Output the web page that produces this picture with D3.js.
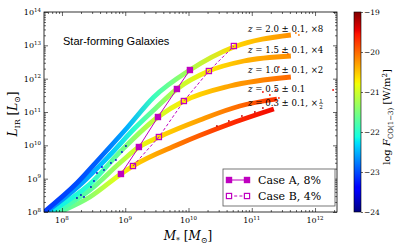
<!DOCTYPE html>
<html>
<head>
<meta charset="utf-8">
<script src="https://cdn.jsdelivr.net/npm/d3@7"></script>
<style>
body { margin: 0; background: #fff; }
svg { display: block; }
</style>
</head>
<body>
<svg id="chart" width="415" height="249"></svg>
<script>
// values, all in log10
const logM_z20 = [7.716, 8.237, 8.600, 9.027, 9.453, 10.022, 10.717, 11.618];
const logL_z20 = [8.00, 8.87, 9.62, 10.52, 11.45, 12.26, 12.95, 13.31];
const logF_z20 = [-23.1, -23.0, -22.9, -22.5, -21.9, -21.2, -20.6, -20.2];

const logM_z15 = [7.747, 8.284, 8.758, 9.153, 9.501, 9.817, 10.322, 10.875, 11.618];
const logL_z15 = [8.00, 8.81, 9.71, 10.52, 11.15, 11.69, 12.23, 12.53, 12.68];
const logF_z15 = [-22.7, -22.6, -22.4, -22.0, -21.5, -21.1, -20.7, -20.4, -20.2];

const logM_z10 = [7.810, 8.442, 8.932, 9.517, 9.927, 10.654, 11.618];
const logL_z10 = [8.00, 8.84, 9.83, 10.85, 11.33, 11.78, 12.05];
const logF_z10 = [-22.2, -22.0, -21.6, -21.0, -20.7, -20.3, -20.0];

const logM_z05 = [7.889, 8.442, 8.932, 9.216, 9.532, 10.180, 10.812, 11.397];
const logL_z05 = [8.00, 8.66, 9.50, 9.95, 10.25, 10.76, 11.18, 11.39];
const logF_z05 = [-21.9, -21.7, -21.2, -20.9, -20.6, -20.3, -20.0, -19.7];

const logM_z03 = [7.968, 8.442, 8.932, 9.122, 9.817, 10.607, 11.349];
const logL_z03 = [8.00, 8.45, 9.14, 9.38, 10.01, 10.61, 11.09];
const logF_z03 = [-21.8, -21.4, -20.8, -20.6, -20.1, -19.7, -19.5];

// stray points off the bands
const outM = [8.237, 8.300, 8.348, 8.458, 8.506, 8.553, 8.632, 8.664, 8.774, 8.853, 8.948, 9.011,
              11.697, 11.745, 11.492, 11.571, 11.429, 11.176, 11.286, 11.381, 11.429,
              10.449, 10.638, 10.844, 11.049, 11.176, 12.285];
const outL = [8.42, 8.51, 8.45, 8.75, 8.93, 9.17, 9.35, 9.26, 9.47, 9.56, 9.80, 9.98,
              13.37, 13.31, 12.80, 12.74, 12.35, 11.60, 11.51, 11.66, 11.42,
              10.58, 10.73, 10.88, 11.00, 11.12, 11.66];
const outF = [-23.7, -23.7, -23.6, -23.7, -23.6, -23.7, -23.6, -23.7, -23.6, -23.7, -23.6, -23.7,
              -20.1, -20.1, -20.0, -20.0, -19.7, -19.5, -19.6, -19.5, -19.6,
              -19.3, -19.3, -19.3, -19.3, -19.3, -19.5];

const caseA_logM = [8.932, 9.216, 9.517, 9.817, 10.022];
const caseA_logL = [9.14, 9.95, 10.85, 11.69, 12.26];
const caseB_logM = [9.122, 9.532, 9.927, 10.322, 10.717];
const caseB_logL = [9.38, 10.25, 11.33, 12.23, 12.98];

const bandRedshift = ["2.0", "1.5", "1.0", "0.5", "0.3"];
const bandFactor = ["8", "4", "2", "", "1/2"];

const xTickExp = [8, 9, 10, 11, 12];
const yTickExp = [8, 9, 10, 11, 12, 13, 14];
const cbarTicks = [-19, -20, -21, -22, -23, -24];

const svg = d3.select("#chart");
const plot = { left: 44, right: 337, top: 12, bottom: 212 };
const serif = "'DejaVu Serif', serif";
const magenta = "#bf00bf";

const x = d3.scaleLog().domain([10 ** 7.716, 10 ** 12.347]).range([plot.left, plot.right]);
const y = d3.scaleLog().domain([1e8, 1e14]).range([plot.bottom, plot.top]);

// matplotlib jet
const jetKnots = [0, 0.11, 0.125, 0.34, 0.35, 0.375, 0.64, 0.65, 0.66, 0.89, 0.91, 1];
const jetColors = ["#000080", "#0000ff", "#0000ff", "#00dbff", "#00e6f7", "#15ffe2",
                   "#efff08", "#f7f500", "#ffec00", "#ff1300", "#e80000", "#800000"];
const color = d3.scaleLinear()
    .domain(jetKnots.map(t => -24 + 5 * t))
    .range(jetColors)
    .clamp(true);

const defs = svg.append("defs");
defs.append("clipPath").attr("id", "clip")
    .append("rect")
    .attr("x", plot.left).attr("y", plot.top)
    .attr("width", plot.right - plot.left).attr("height", plot.bottom - plot.top);

//---- bands
const bands = [
    { id: "z03", m: logM_z03, l: logL_z03, f: logF_z03 },
    { id: "z05", m: logM_z05, l: logL_z05, f: logF_z05 },
    { id: "z10", m: logM_z10, l: logL_z10, f: logF_z10 },
    { id: "z15", m: logM_z15, l: logL_z15, f: logF_z15 },
    { id: "z20", m: logM_z20, l: logL_z20, f: logF_z20 }
];

const line = d3.line()
    .x(d => x(10 ** d[0]))
    .y(d => y(10 ** d[1]))
    .curve(d3.curveMonotoneX);

const gPlot = svg.append("g").attr("clip-path", "url(#clip)");

bands.forEach(b => {
    const x1 = x(10 ** b.m[0]), x2 = x(10 ** b.m[b.m.length - 1]);
    const grad = defs.append("linearGradient")
        .attr("id", "grad-" + b.id)
        .attr("gradientUnits", "userSpaceOnUse")
        .attr("x1", x1).attr("x2", x2).attr("y1", 0).attr("y2", 0);
    b.m.forEach((m, i) => {
        grad.append("stop")
            .attr("offset", (x(10 ** m) - x1) / (x2 - x1))
            .attr("stop-color", color(b.f[i]));
    });
    gPlot.append("path")
        .datum(b.m.map((m, i) => [m, b.l[i]]))
        .attr("fill", "none")
        .attr("stroke", `url(#grad-${b.id})`)
        .attr("stroke-width", 4.8)
        .attr("d", line);
});

gPlot.selectAll(".stray")
    .data(outM.map((m, i) => [m, outL[i], outF[i]]))
    .enter()
    .append("circle")
    .attr("class", "stray")
    .attr("cx", d => x(10 ** d[0]))
    .attr("cy", d => y(10 ** d[1]))
    .attr("r", 0.9)
    .attr("fill", d => color(d[2]));

//---- case A / case B
const caseLine = d3.line().x(d => x(10 ** d[0])).y(d => y(10 ** d[1]));
const caseA = caseA_logM.map((m, i) => [m, caseA_logL[i]]);
const caseB = caseB_logM.map((m, i) => [m, caseB_logL[i]]);

svg.append("path").datum(caseB)
    .attr("fill", "none").attr("stroke", magenta).attr("stroke-width", 1)
    .attr("stroke-dasharray", "3,2.2")
    .attr("d", caseLine);
svg.append("path").datum(caseA)
    .attr("fill", "none").attr("stroke", magenta).attr("stroke-width", 1)
    .attr("d", caseLine);

svg.selectAll(".mA").data(caseA).enter().append("rect")
    .attr("x", d => x(10 ** d[0]) - 3.2).attr("y", d => y(10 ** d[1]) - 3.2)
    .attr("width", 6.4).attr("height", 6.4)
    .attr("fill", magenta);
svg.selectAll(".mB").data(caseB).enter().append("rect")
    .attr("x", d => x(10 ** d[0]) - 2.6).attr("y", d => y(10 ** d[1]) - 2.6)
    .attr("width", 5.2).attr("height", 5.2)
    .attr("fill", "none").attr("stroke", magenta).attr("stroke-width", 1.2);

//---- frame and ticks
const minorVals = (lo, hi) => {
    const out = [];
    for (let e = lo; e <= hi; e++) for (let k = 2; k <= 9; k++) out.push(k * 10 ** e);
    return out;
};
const xMinor = minorVals(7, 12).filter(v => v > x.domain()[0] && v < x.domain()[1]);
const yMinor = minorVals(8, 13);
const xMajor = xTickExp.map(e => 10 ** e);
const yMajor = yTickExp.map(e => 10 ** e);

function ticks(axis, tr, vals, len) {
    const g = svg.append("g").attr("transform", tr)
        .call(axis.tickValues(vals).tickSize(-len).tickFormat(""));
    g.select(".domain").remove();
    g.selectAll("line").attr("stroke", "#000").attr("stroke-width", 0.6);
}
[[xMajor, 4], [xMinor, 2]].forEach(([v, l]) => {
    ticks(d3.axisBottom(x), `translate(0,${plot.bottom})`, v, l);
    ticks(d3.axisTop(x), `translate(0,${plot.top})`, v, l);
});
[[yMajor, 4], [yMinor, 2]].forEach(([v, l]) => {
    ticks(d3.axisLeft(y), `translate(${plot.left},0)`, v, l);
    ticks(d3.axisRight(y), `translate(${plot.right},0)`, v, l);
});

svg.append("rect")
    .attr("x", plot.left).attr("y", plot.top)
    .attr("width", plot.right - plot.left).attr("height", plot.bottom - plot.top)
    .attr("fill", "none").attr("stroke", "#000").attr("stroke-width", 0.8);

// tick labels
xTickExp.forEach(e => {
    const t = svg.append("text")
        .attr("x", x(10 ** e)).attr("y", 223)
        .attr("text-anchor", "middle")
        .style("font-family", serif).style("font-size", "8px");
    t.append("tspan").text("10");
    t.append("tspan").attr("dy", -3.5).style("font-size", "5.5px").text(e);
});
yTickExp.forEach(e => {
    const t = svg.append("text")
        .attr("x", 41).attr("y", y(10 ** e) + 3)
        .attr("text-anchor", "end")
        .style("font-family", serif).style("font-size", "8px");
    t.append("tspan").text("10");
    t.append("tspan").attr("dy", -3.5).style("font-size", "5.5px").text(e);
});

// axis titles
const xt = svg.append("text")
    .attr("x", 188).attr("y", 240)
    .attr("text-anchor", "middle")
    .style("font-family", serif).style("font-size", "12px");
xt.append("tspan").style("font-style", "italic").text("M");
xt.append("tspan").attr("dy", 3).style("font-size", "8px").text("*");
xt.append("tspan").attr("dy", -3).text(" [");
xt.append("tspan").style("font-style", "italic").text("M");
xt.append("tspan").attr("dy", 3).style("font-size", "8px").text("⊙");
xt.append("tspan").attr("dy", -3).text("]");

const yt = svg.append("text")
    .attr("transform", "translate(17,114) rotate(-90)")
    .attr("text-anchor", "middle")
    .style("font-family", serif).style("font-size", "12px");
yt.append("tspan").style("font-style", "italic").text("L");
yt.append("tspan").attr("dy", 3).style("font-size", "8px").text("IR");
yt.append("tspan").attr("dy", -3).text(" [");
yt.append("tspan").style("font-style", "italic").text("L");
yt.append("tspan").attr("dy", 3).style("font-size", "8px").text("⊙");
yt.append("tspan").attr("dy", -3).text("]");

// in-plot texts
svg.append("text")
    .attr("x", 63).attr("y", 45)
    .style("font-family", "'Liberation Sans', Arial, sans-serif")
    .style("font-size", "11px")
    .text("Star-forming Galaxies");

const labelY = [32, 53, 73, 92, 106];
bandRedshift.forEach((zv, i) => {
    const t = svg.append("text")
        .attr("x", 248).attr("y", labelY[i])
        .style("font-family", serif).style("font-size", "8.6px");
    t.append("tspan").style("font-style", "italic").text("z");
    let rest = ` = ${zv} ± 0.1`;
    if (bandFactor[i] && bandFactor[i] !== "1/2") rest += `, ×${bandFactor[i]}`;
    if (bandFactor[i] === "1/2") rest += ", ×";
    t.append("tspan").text(rest);
    if (bandFactor[i] === "1/2") {
        const end = 248 + t.node().getComputedTextLength() + 1.5;
        const [num, den] = bandFactor[i].split("/");
        svg.append("text").attr("x", end).attr("y", labelY[i] - 3.5)
            .style("font-family", serif).style("font-size", "5.5px").text(num);
        svg.append("line").attr("x1", end - 0.3).attr("x2", end + 3.8)
            .attr("y1", labelY[i] - 2.6).attr("y2", labelY[i] - 2.6)
            .attr("stroke", "#000").attr("stroke-width", 0.5);
        svg.append("text").attr("x", end).attr("y", labelY[i] + 2.6)
            .style("font-family", serif).style("font-size", "5.5px").text(den);
    }
});

//---- legend
const lg = svg.append("g");
lg.append("rect")
    .attr("x", 223).attr("y", 169).attr("width", 112).attr("height", 37)
    .attr("fill", "#fff").attr("stroke", "#555").attr("stroke-width", 0.8);
[["Case A, 8%", false, 180], ["Case B, 4%", true, 196]].forEach(([label, open, ly]) => {
    lg.append("line").attr("x1", 229).attr("x2", 247).attr("y1", ly).attr("y2", ly)
        .attr("stroke", magenta).attr("stroke-width", 1)
        .attr("stroke-dasharray", open ? "3,2.2" : null);
    [229, 247].forEach(px => {
        if (open) {
            lg.append("rect").attr("x", px - 2.6).attr("y", ly - 2.6)
                .attr("width", 5.2).attr("height", 5.2)
                .attr("fill", "#fff").attr("stroke", magenta).attr("stroke-width", 1.2);
        } else {
            lg.append("rect").attr("x", px - 3.2).attr("y", ly - 3.2)
                .attr("width", 6.4).attr("height", 6.4).attr("fill", magenta);
        }
    });
    lg.append("text").attr("x", 258).attr("y", ly + 4)
        .style("font-family", serif).style("font-size", "11px")
        .text(label);
});

//---- colorbar
const cb = { x: 354, w: 7 };
const cbar = d3.scaleLinear().domain([-24, -19]).range([plot.bottom, plot.top]);
const cg = defs.append("linearGradient").attr("id", "jet")
    .attr("x1", 0).attr("x2", 0).attr("y1", 1).attr("y2", 0);
jetKnots.forEach((t, i) => cg.append("stop").attr("offset", t).attr("stop-color", jetColors[i]));
svg.append("rect")
    .attr("x", cb.x).attr("y", plot.top).attr("width", cb.w).attr("height", plot.bottom - plot.top)
    .attr("fill", "url(#jet)").attr("stroke", "#000").attr("stroke-width", 0.6);
const cAxis = svg.append("g").attr("transform", `translate(${cb.x + cb.w},0)`)
    .call(d3.axisRight(cbar).tickValues(cbarTicks).tickSize(2).tickFormat(""));
cAxis.select(".domain").remove();
cAxis.selectAll("line").attr("stroke", "#000").attr("stroke-width", 0.6);
cbarTicks.forEach(v => {
    svg.append("text")
        .attr("x", cb.x + cb.w + 3).attr("y", cbar(v) + 3)
        .style("font-family", serif).style("font-size", "7.5px")
        .text("−" + Math.abs(v));
});
const ct = svg.append("text")
    .attr("transform", "translate(390,117) rotate(-90)")
    .attr("text-anchor", "middle")
    .style("font-family", serif).style("font-size", "10px");
ct.append("tspan").text("log ");
ct.append("tspan").style("font-style", "italic").text("F");
ct.append("tspan").attr("dy", 2.5).style("font-size", "7px").text("CO(1−3)");
ct.append("tspan").attr("dy", -2.5).text(" [W/m");
ct.append("tspan").attr("dy", -3.5).style("font-size", "7px").text("2");
ct.append("tspan").attr("dy", 3.5).text("]");
</script>
</body>
</html>
